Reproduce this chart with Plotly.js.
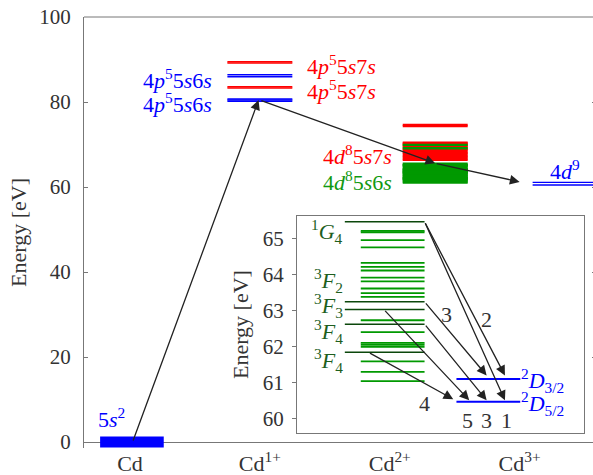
<!DOCTYPE html>
<html><head><meta charset="utf-8">
<script src="https://cdn.plot.ly/plotly-3.0.1.min.js"></script>
<style>html,body{margin:0;padding:0;overflow:hidden;background:#fff}#chart{width:600px;height:475px}</style>
</head><body><div id="chart"></div>
<script>
// ---------------- data (energies in eV) ----------------
const ionLabels = ['Cd', 'Cd<sup>1+</sup>', 'Cd<sup>2+</sup>', 'Cd<sup>3+</sup>'];
const ionIndex = [1, 2, 3, 4];

const cdGround = [0];                                        // 5s2
const cd1Levels5s6s = [80.2, 80.45, 80.7, 85.95, 86.4];       // 4p5 5s6s
const cd1Levels5s7s = [83.3, 83.6, 89.15, 89.45];             // 4p5 5s7s
const cd2Levels5s7s = [66.4, 66.7, 67.0, 67.35, 67.7, 68.0, 68.35, 68.7, 69.0, 69.35, 69.7, 70.0, 70.25, 70.45, 74.3, 74.6];
const cd2Levels5s6s = [61.04, 61.30, 61.59, 61.99, 62.05, 62.10, 62.40, 62.73, 63.38, 63.48, 63.61, 63.81, 63.91, 64.11, 64.21, 64.32, 64.75, 64.95, 65.17, 65.21, 69.13, 69.91];
const cd2TermLevels = [65.46, 63.24, 63.03, 62.62, 61.84];
const cd2TermLabels = ['<sup>1</sup><i>G</i><sub>4</sub>', '<sup>3</sup><i>F</i><sub>2</sub>', '<sup>3</sup><i>F</i><sub>3</sub>', '<sup>3</sup><i>F</i><sub>4</sub>', '<sup>3</sup><i>F</i><sub>4</sub>'];
const cd3Levels = [60.47, 61.10];
const cd3Labels = ['<sup>2</sup><i>D</i><sub>5/2</sub>', '<sup>2</sup><i>D</i><sub>3/2</sub>'];

// decay transitions shown in the inset: term index -> Cd3+ level index
const transFrom  = [0, 0, 1, 2, 3, 4];
const transTo    = [1, 0, 1, 0, 0, 0];
const transLabel = ['2', '1', '3', '5', '3', '4'];

// ionisation pathway energies: Cd -> Cd1+ -> Cd2+ -> Cd3+
const pathEnergy = [0, 80.45, 65.6, 61.2];

// ---------------- layout helpers ----------------
const FONT = '"Liberation Serif", serif';
const BLUE = '#0000ff', RED = '#ff0000', GREEN = '#009900', DARK = '#0b470b';
const spanCd = [0.77, 1.26], spanCd1 = [1.75, 2.25], spanCd2 = [3.1, 3.6], spanCd3 = [4.1, 4.7];
const inGreen = [1, 2], inTerm = [0.75, 2], inCd3 = [2.5, 3.5];

function segments(levels, span) {
  const x = [], y = [];
  levels.forEach(e => { x.push(span[0], span[1], null); y.push(e, e, null); });
  return {x, y};
}
function lvl(levels, span, color, width, xa, ya) {
  const s = segments(levels, span);
  return {type: 'scatter', mode: 'lines', x: s.x, y: s.y, xaxis: xa, yaxis: ya,
          line: {color: color, width: width}, hoverinfo: 'skip', showlegend: false};
}

const traces = [
  lvl(cdGround, spanCd, BLUE, 11, 'x', 'y'),
  lvl(cd1Levels5s6s, spanCd1, BLUE, 1.5, 'x', 'y'),
  lvl(cd1Levels5s7s, spanCd1, RED, 1.5, 'x', 'y'),
  lvl(cd2Levels5s7s, spanCd2, RED, 2.2, 'x', 'y'),
  lvl(cd2Levels5s6s.concat(cd2TermLevels), spanCd2, GREEN, 2.4, 'x', 'y'),
  lvl(cd3Levels, spanCd3, BLUE, 1.3, 'x', 'y'),
  // inset
  lvl(cd2Levels5s6s, inGreen, GREEN, 1.8, 'x2', 'y2'),
  lvl(cd2TermLevels, inTerm, DARK, 1.5, 'x2', 'y2'),
  lvl(cd3Levels, inCd3, BLUE, 2, 'x2', 'y2')
];

function f(color, size) { return {family: FONT, size: size || 22, color: color}; }

const ann = [];
const arrowStyle = {showarrow: true, arrowhead: 2, arrowsize: 1.5, arrowwidth: 1.3, arrowcolor: '#222', standoff: 0, text: ''};
// main pathway arrows
const pathX = [1.02, 1.99, 3.35, 4.0];
const pathTailX = [1.02, 2.0, 3.35];
for (let i = 0; i < 3; i++) {
  ann.push(Object.assign({}, arrowStyle, {xref: 'x', yref: 'y', axref: 'x', ayref: 'y',
    x: pathX[i + 1], y: pathEnergy[i + 1], ax: pathTailX[i], ay: pathEnergy[i]}));
}
// inset arrows
const tailX = [2.0, 2.0, 2.0, 1.36, 2.0, 1.12];
const tipX  = [3.26, 3.26, 2.973, 2.70, 2.973, 2.45];
const tipDy = [0.1, 0.04, 0.1, 0.04, 0.04, 0.07];
for (let i = 0; i < transFrom.length; i++) {
  ann.push(Object.assign({}, arrowStyle, {xref: 'x2', yref: 'y2', axref: 'x2', ayref: 'y2',
    x: tipX[i], y: cd3Levels[transTo[i]] + tipDy[i], ax: tailX[i], ay: cd2TermLevels[transFrom[i]]}));
}
// transition numbers
const numPos = [[2.973, 62.76], [3.28, 59.96], [2.346, 62.90], [2.68, 59.96], [2.97, 59.96], [2.006, 60.43]];
transLabel.forEach((t, i) => ann.push({xref: 'x2', yref: 'y2', x: numPos[i][0], y: numPos[i][1], text: t,
  showarrow: false, font: f('#333'), xanchor: 'center', yanchor: 'middle'}));
// term labels
const termLabelY = [65.2, 63.83, 63.15, 62.42, 61.61];
cd2TermLabels.forEach((t, i) => ann.push({xref: 'x2', yref: 'y2', x: 0.76, y: termLabelY[i], text: t,
  showarrow: false, font: f('#1d5e1d'), xanchor: 'right', yanchor: 'middle'}));
cd3Labels.forEach((t, i) => ann.push({xref: 'x2', yref: 'y2', x: 3.48, y: cd3Levels[i] - 0.05, text: t,
  showarrow: false, font: f(BLUE), xanchor: 'left', yanchor: 'middle'}));
// configuration labels (main)
function lab(text, x, y, color, xa) {
  ann.push({xref: 'x', yref: 'y', x: x, y: y, text: text, showarrow: false, font: f(color), xanchor: xa, yanchor: 'middle'});
}
lab('5<i>s</i><sup>2</sup>', 0.858, 5.6, BLUE, 'center');
lab('4<i>p</i><sup>5</sup>5<i>s</i>6<i>s</i>', 1.645, 85.5, BLUE, 'right');
lab('4<i>p</i><sup>5</sup>5<i>s</i>6<i>s</i>', 1.645, 79.8, BLUE, 'right');
lab('4<i>p</i><sup>5</sup>5<i>s</i>7<i>s</i>', 2.35, 88.8, RED, 'left');
lab('4<i>p</i><sup>5</sup>5<i>s</i>7<i>s</i>', 2.35, 82.9, RED, 'left');
lab('4<i>d</i><sup>8</sup>5<i>s</i>7<i>s</i>', 3.03, 67.6, RED, 'right');
lab('4<i>d</i><sup>8</sup>5<i>s</i>6<i>s</i>', 3.03, 61.3, '#119911', 'right');
lab('4<i>d</i><sup>9</sup>', 4.35, 64.0, BLUE, 'center');

const AX = '#777';
const layout = {
  width: 600, height: 475,
  margin: {l: 83.5, r: 4, t: 17.3, b: 27.4, pad: 0},
  paper_bgcolor: '#fff', plot_bgcolor: '#fff', showlegend: false,
  font: {family: FONT, size: 21, color: '#333'},
  xaxis: {range: [0.646, 4.588], tickvals: ionIndex, ticktext: ionLabels, ticks: '', showline: false,
          zeroline: false, showgrid: false, fixedrange: true, ticklabelstandoff: 0,
          tickfont: f('#333', 22)},
  yaxis: {range: [-1.4, 100], tick0: 0, dtick: 20, ticks: 'inside', ticklen: 4, tickcolor: AX,
          showline: true, linecolor: AX, linewidth: 1, mirror: 'ticks', zeroline: true, zerolinecolor: AX,
          zerolinewidth: 1, showgrid: false, ticklabelstandoff: 8, tickfont: f('#333', 21),
          title: {text: 'Energy [eV]', standoff: 6, font: f('#333', 22)}},
  xaxis2: {domain: [0.416, 0.9766], anchor: 'y2', range: [0, 4.5], showticklabels: false, ticks: '',
           showline: true, mirror: true, linecolor: AX, zeroline: false, showgrid: false},
  yaxis2: {domain: [0.0346, 0.5382], anchor: 'x2', range: [59.6, 65.62], tick0: 60, dtick: 1,
           ticks: 'outside', ticklen: 4, tickcolor: AX, showline: true, mirror: true, linecolor: AX,
           zeroline: false, showgrid: false, ticklabelstandoff: 4, tickfont: f('#333', 21),
           title: {text: 'Energy [eV]', standoff: 8, font: f('#333', 22)}},
  shapes: [{type: 'line', xref: 'paper', yref: 'paper', x0: 0, x1: 1, y0: 1, y1: 1, line: {color: AX, width: 1}}],
  annotations: ann
};
Plotly.newPlot('chart', traces, layout, {displayModeBar: false, staticPlot: true});
</script></body></html>
